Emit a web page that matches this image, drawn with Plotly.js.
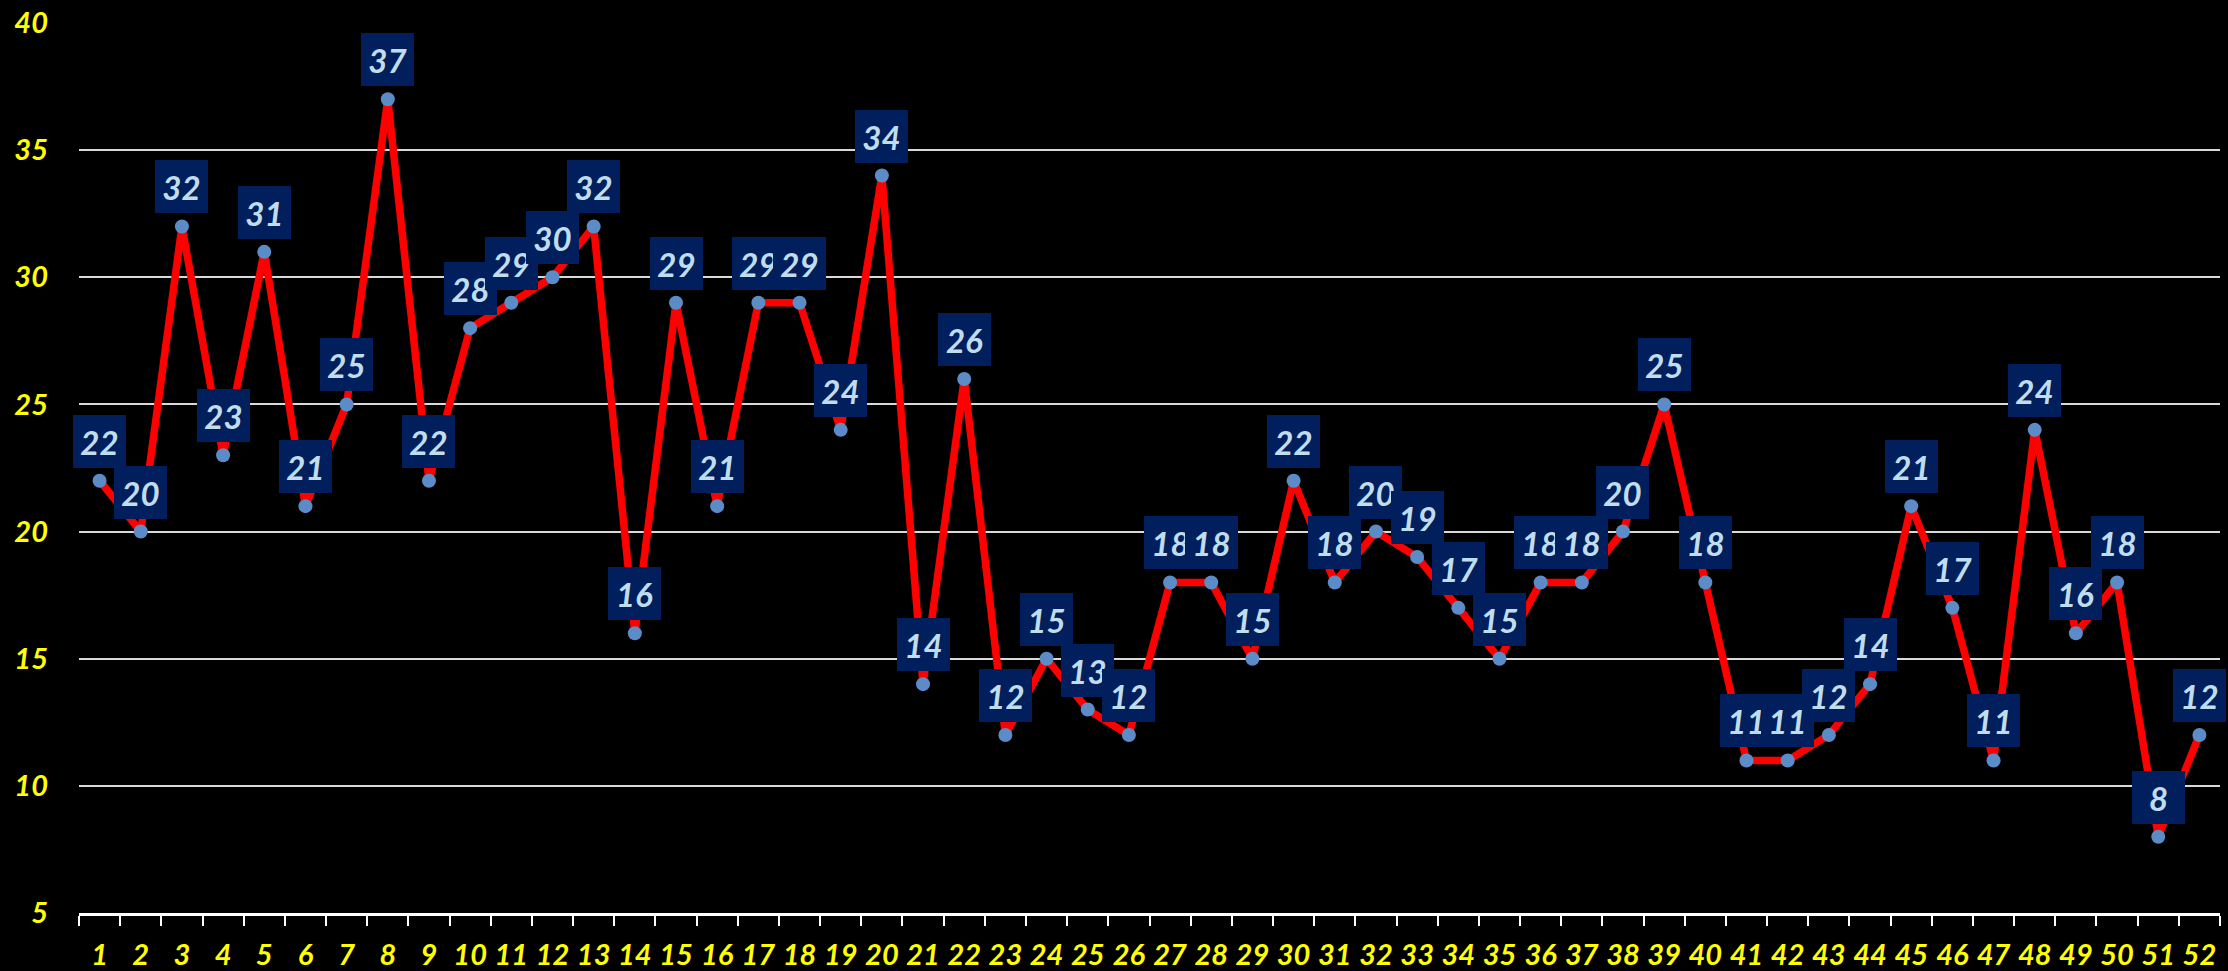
<!DOCTYPE html>
<html>
<head>
<meta charset="utf-8">
<script src="https://cdn.plot.ly/plotly-3.0.1.min.js"></script>
<style>html,body{margin:0;padding:0;background:#000;}#chart{width:2228px;height:971px;}</style>
</head>
<body>
<div id="chart"></div>
<script>
const categories = ["1","2","3","4","5","6","7","8","9","10","11","12","13","14","15","16","17","18","19","20","21","22","23","24","25","26","27","28","29","30","31","32","33","34","35","36","37","38","39","40","41","42","43","44","45","46","47","48","49","50","51","52"];
const values = [22,20,32,23,31,21,25,37,22,28,29,30,32,16,29,21,29,29,24,34,14,26,12,15,13,12,18,18,15,22,18,20,19,17,15,18,18,20,25,18,11,11,12,14,21,17,11,24,16,18,8,12];
const yTicks = [5,10,15,20,25,30,35,40];

const FONT = "Lato, 'Open Sans', sans-serif";

const trace = {
  x: categories,
  y: values,
  type: 'scatter',
  mode: 'lines+markers',
  line: {color: '#FF0000', width: 7.5},
  marker: {color: '#5B8CC8', size: 14},
  hoverinfo: 'x+y'
};

// category axis: annotation x given as the category index
const annotations = categories.map((c, i) => ({
  x: i, y: values[i], xref: 'x', yref: 'y',
  text: String(values[i]),
  showarrow: false,
  yanchor: 'bottom', xanchor: 'center',
  yshift: 13,
  width: 53, height: 53,
  borderpad: 0, borderwidth: 0,
  bgcolor: '#001F5C',
  font: {family: FONT, size: 33, color: '#C0DDEE', weight: 'bold', style: 'italic'}
}));

const layout = {
  width: 2228, height: 971,
  paper_bgcolor: '#000000', plot_bgcolor: '#000000',
  margin: {l: 79, r: 8, t: 23, b: 58},
  showlegend: false,
  xaxis: {
    type: 'category',
    range: [-0.5, categories.length - 0.5],
    autorange: false,
    tickson: 'boundaries',
    ticks: 'outside', ticklen: 10, tickwidth: 2, tickcolor: '#FFFFFF',
    showline: true, linecolor: '#FFFFFF', linewidth: 3,
    showgrid: false, zeroline: false,
    tickangle: 0,
    ticklabelstandoff: 14,
    tickfont: {family: FONT, size: 29, color: '#FFFF00', weight: 'bold', style: 'italic'}
  },
  yaxis: {
    range: [5, 40],
    autorange: false,
    tickmode: 'array', tickvals: yTicks, ticktext: yTicks.map(String),
    showline: false, zeroline: false,
    showgrid: true, gridcolor: '#D9D9D9', gridwidth: 2,
    ticks: '', ticklabelstandoff: 30,
    tickfont: {family: FONT, size: 29, color: '#FFFF00', weight: 'bold', style: 'italic'}
  },
  annotations: annotations
};

Plotly.newPlot('chart', [trace], layout, {displayModeBar: false, staticPlot: true});
</script>
</body>
</html>
